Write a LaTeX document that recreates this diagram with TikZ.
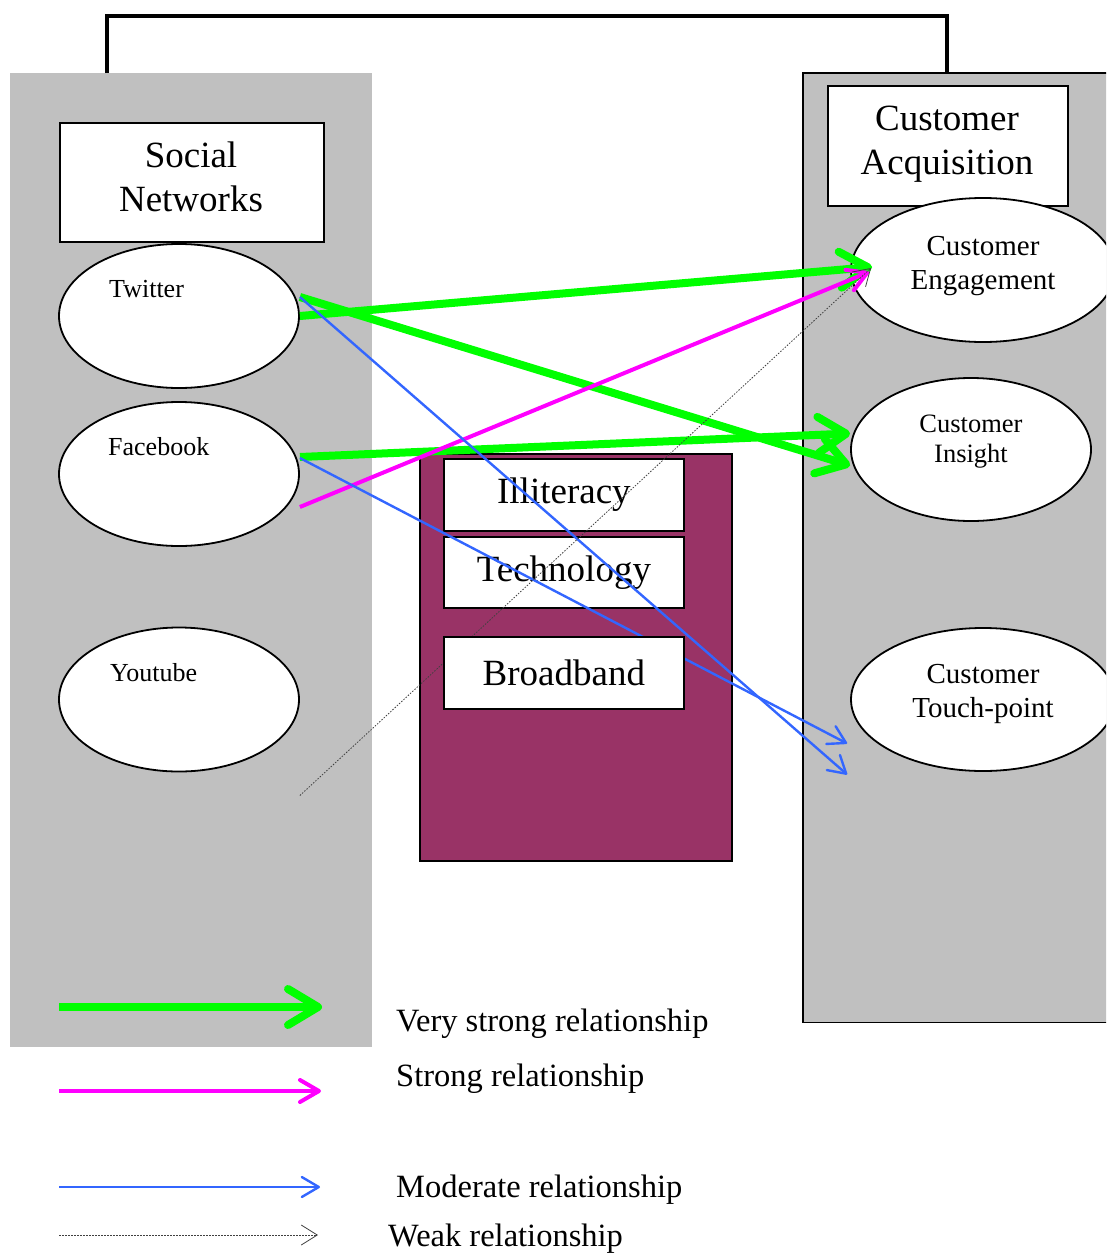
\documentclass[tikz,border=0pt]{standalone}
\usepackage{fontspec}
\setmainfont{Liberation Serif}
\usetikzlibrary{shapes.geometric,arrows.meta}
\definecolor{panelgray}{HTML}{C0C0C0}
\definecolor{plum}{HTML}{993366}
\definecolor{vgreen}{HTML}{00FF00}
\definecolor{smag}{HTML}{FF00FF}
\definecolor{mblue}{HTML}{3366FF}
\begin{document}
\begin{tikzpicture}[x=1pt,y=-1pt,
  boxnode/.style={draw=black, line width=1.8pt, fill=white, inner sep=0pt, anchor=north west},
  ellnode/.style={ellipse, draw=black, line width=1.8pt, fill=white, inner sep=0pt},
  bigtxt/.style={font=\fontsize{37}{44}\selectfont, align=center},
  midtxt/.style={font=\fontsize{29}{34}\selectfont, align=center},
  instxt/.style={font=\fontsize{26.5}{30}\selectfont, align=center},
  smalltxt/.style={font=\fontsize{26}{31}\selectfont, anchor=base west, inner sep=0pt},
  legtxt/.style={font=\fontsize{32.5}{38}\selectfont, anchor=base west, inner sep=0pt},
  vstrong/.style={draw=vgreen, line width=8pt, -{Straight Barb[length=28pt,width=36pt,round]}},
  vstrongleg/.style={draw=vgreen, line width=8pt, -{Straight Barb[length=30pt,width=36pt,round]}},
  strongrel/.style={draw=smag, line width=4pt, -{Straight Barb[length=19pt,width=22pt,round]}},
  modrel/.style={draw=mblue, line width=2.4pt, -{Straight Barb[length=17pt,width=20pt,round]}},
  weakrel/.style={draw=black!75, line width=0.8pt, dash pattern=on 1.5pt off 1.5pt, -{Straight Barb[length=16pt,width=20pt]}}
]
\useasboundingbox (0,0) rectangle (1106,1255);
\clip (0,0) rectangle (1106,1255);
\fill[white] (0,0) rectangle (1106,1255);

% panels
\node[fill=panelgray, inner sep=0pt, anchor=north west, minimum width=362pt, minimum height=974pt] (lp) at (10,73) {};
\node[fill=panelgray, inner sep=0pt, anchor=north west, minimum width=400pt, minimum height=949pt] (rp) at (803,73) {};
\draw[line width=1.8pt] (rp.north east) -- (rp.north west) -- (rp.south west) -- (rp.south east);

% bracket
\coordinate (bl) at ([xshift=97pt]lp.north west);
\coordinate (br) at ([xshift=144pt]rp.north west);
\draw[line width=4pt] (bl) -- ++(0,-57) -| (br);

% header boxes
\node[boxnode, minimum width=264pt, minimum height=119pt] (sn) at (59,122) {};
\node[bigtxt] (snt) at (191,177) {Social\\Networks};
\node[boxnode, minimum width=240pt, minimum height=120pt] (ca) at (827,85) {};
\node[bigtxt] (cat) at (947,144) {Customer\\Acquisition};

% left ellipses
\node[ellnode, minimum width=240pt, minimum height=144pt] (tw) at (179,316) {};
\node[smalltxt] (twt) at (109,297) {Twitter};
\node[ellnode, minimum width=240pt, minimum height=144pt] (fb) at (179,474) {};
\node[smalltxt] (fbt) at (108,455) {Facebook};
\node[ellnode, minimum width=240pt, minimum height=144pt] (yt) at (179,699.5) {};
\node[smalltxt] (ytt) at (110,681) {Youtube};

% right ellipses
\node[ellnode, minimum width=264pt, minimum height=144pt] (eng) at (983,270) {};
\node[midtxt] (engt) at (983,266) {Customer\\Engagement};
\node[ellnode, minimum width=240pt, minimum height=143pt] (ins) at (971,449.5) {};
\node[instxt] (inst) at (971,441.5) {Customer\\Insight};
\node[ellnode, minimum width=264pt, minimum height=143pt] (tp) at (983,699.5) {};
\node[midtxt] (tpt) at (983,694) {Customer\\Touch-point};

% barriers
\node[boxnode, fill=plum, minimum width=312pt, minimum height=407pt] (bar) at (419,453) {};
\node[boxnode, bigtxt, minimum width=240pt, minimum height=72pt] (ill) at (443,458) {Illiteracy};
\node[boxnode, bigtxt, minimum width=240pt, minimum height=71pt] (tec) at (443,536) {Technology};

% connectors
\draw[vstrong] (tw.east) -- ([xshift=22pt,yshift=3pt]eng.west);
\draw[vstrong] ([yshift=19pt]tw.east) -- ([yshift=-16pt]ins.west);
\draw[vstrong] ([yshift=17pt]fb.east) -- ([yshift=16pt]ins.west);
\draw[strongrel] ([yshift=-33pt]fb.east) -- ([xshift=19pt,yshift=-2pt]eng.west);
\draw[modrel] ([yshift=19pt]tw.east) -- ([xshift=-3pt,yshift=-75pt]tp.west);
\draw[modrel] ([yshift=16pt]fb.east) -- ([xshift=-3pt,yshift=-44pt]tp.west);
\draw[weakrel] ([yshift=-96pt]yt.east) -- ([xshift=21pt,yshift=2pt]eng.west);

\node[boxnode, bigtxt, minimum width=240pt, minimum height=72pt] (brd) at (443,636) {Broadband};

% legend
\coordinate (l1s) at (59,1007); \coordinate (l1e) at (322,1007);
\coordinate (l2s) at (59,1091); \coordinate (l2e) at (321,1091);
\coordinate (l3s) at (59,1187); \coordinate (l3e) at (320,1187);
\coordinate (l4s) at (59,1235); \coordinate (l4e) at (318,1235);
\draw[vstrongleg] (l1s) -- (l1e);
\draw[strongrel] (l2s) -- (l2e);
\draw[modrel] (l3s) -- (l3e);
\draw[weakrel] (l4s) -- (l4e);
\node[legtxt] (lt1) at (396,1031) {Very strong relationship};
\node[legtxt] (lt2) at (396,1086) {Strong relationship};
\node[legtxt] (lt3) at (396,1197) {Moderate relationship};
\node[legtxt] (lt4) at (388,1246) {Weak relationship};
\end{tikzpicture}
\end{document}
